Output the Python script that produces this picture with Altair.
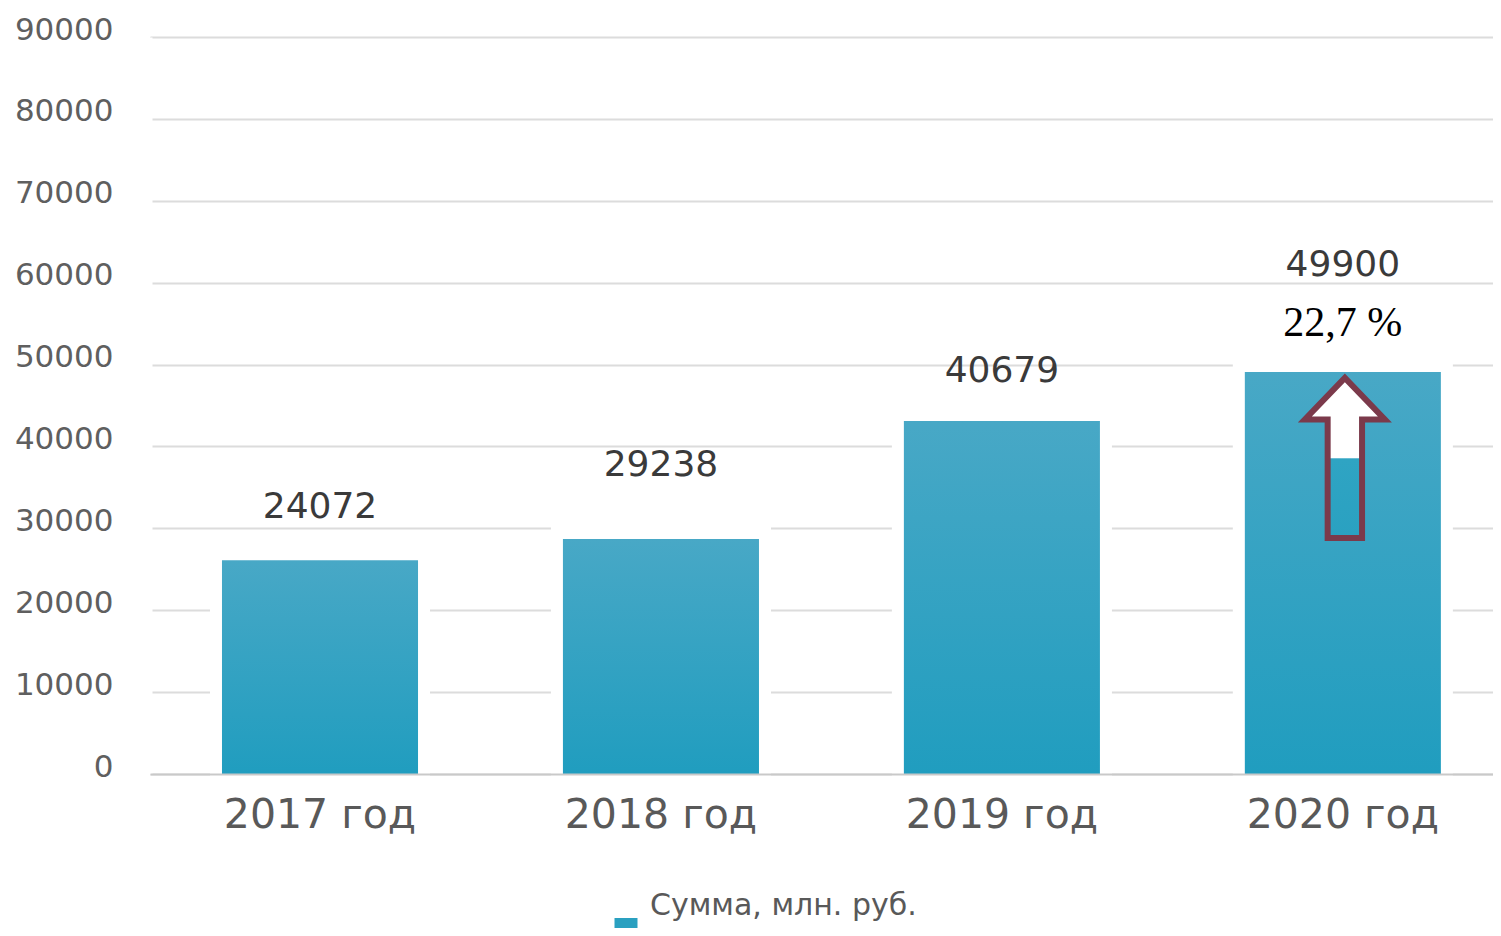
import altair as alt
import pandas as pd

years = ["2017 год", "2018 год", "2019 год", "2020 год"]
bar_heights = [26100, 28700, 43100, 49100]      # bar tops as drawn in the picture
value_labels = [24072, 29238, 40679, 49900]     # printed values
growth_labels = ["", "", "", "22,7 %"]
series_name = "Сумма, млн. руб."
y_ticks = [0, 10000, 20000, 30000, 40000, 50000, 60000, 70000, 80000, 90000]

df = pd.DataFrame({
    "year": years,
    "height": bar_heights,
    "label": value_labels,
    "label_txt": [str(v) for v in value_labels],
    "growth": growth_labels,
    "series": [series_name] * 4,
})

FONT = "DejaVu Sans"
bar_grad = alt.Gradient(
    gradient="linear",
    stops=[alt.GradientStop(color="#48a8c6", offset=0),
           alt.GradientStop(color="#209dbf", offset=1)],
    x1=0, x2=0, y1=0, y2=1,
)
arrow_grad = alt.Gradient(
    gradient="linear",
    stops=[alt.GradientStop(color="#ffffff", offset=0),
           alt.GradientStop(color="#ffffff", offset=0.5),
           alt.GradientStop(color="#2fa4c3", offset=0.505),
           alt.GradientStop(color="#2aa1c1", offset=1)],
    x1=0, x2=0, y1=0, y2=1,
)

xs = alt.X("year:N", sort=years, title=None,
           scale=alt.Scale(paddingInner=0.425, paddingOuter=0.182, align=0.58),
           axis=alt.Axis(zindex=1, grid=False, domain=True))
ys = alt.Y("height:Q", title=None, scale=alt.Scale(domain=[0, 90000], nice=False),
           axis=alt.Axis(values=y_ticks, format="d", zindex=0))
xt = alt.X("year:N", sort=years, title=None)
yt = alt.Y("label:Q", title=None)

base = alt.Chart(df)

halo = base.mark_bar(color="white", stroke="white", strokeWidth=24).encode(x=xs, y=ys)
bars = base.mark_bar(fill=bar_grad).encode(x=xs, y=ys)

legend_square = "M -1 -0.26 L 1 -0.26 L 1 1.74 L -1 1.74 Z"
legend_layer = base.transform_filter("datum.year == 'none'").mark_square(opacity=1).encode(
    x=xt, y=alt.Y("height:Q", title=None),
    color=alt.Color("series:N",
                    scale=alt.Scale(domain=[series_name], range=["#2aa0c0"]),
                    legend=alt.Legend(title=None, orient="none", legendX=461, legendY=869,
                                      symbolType=legend_square, symbolSize=529,
                                      symbolOpacity=1,
                                      labelFont=FONT, labelFontSize=30, labelLimit=0,
                                      labelColor="#595959", labelOffset=9,
                                      labelBaseline="bottom", padding=0)),
)

txt_main = base.transform_filter("datum.growth == ''").mark_text(
    font=FONT, fontSize=36, color="#3a3a3a", dy=-70, baseline="middle").encode(
    x=xt, y=yt, text="label_txt:N")
txt_last = base.transform_filter("datum.growth != ''").mark_text(
    font=FONT, fontSize=36, color="#3a3a3a", dy=-100, baseline="middle").encode(
    x=xt, y=yt, text="label_txt:N")
txt_growth = base.transform_filter("datum.growth != ''").mark_text(
    font="Liberation Serif", fontSize=42, color="#000000", dy=-42, baseline="middle").encode(
    x=xt, y=yt, text="growth:N")

arrow_path = ("M 0 -1 L 0.5 -0.48 L 0.215 -0.48 L 0.215 1 L -0.215 1 "
              "L -0.215 -0.48 L -0.5 -0.48 Z")
arrow = base.transform_filter("datum.growth != ''").mark_point(
    shape=arrow_path, size=25600, filled=True, fill=arrow_grad, opacity=1,
    stroke="#7b3a4b", strokeWidth=6, strokeJoin="miter", yOffset=86, xOffset=2).encode(
    x=xt, y=alt.Y("height:Q", title=None))

chart = alt.layer(halo, bars, legend_layer, txt_main, txt_last, txt_growth, arrow).properties(
    width=1343, height=737,
    autosize=alt.AutoSizeParams(type="none"),
    padding={"left": 142, "top": 29, "right": 0, "bottom": 154},
).configure_view(strokeWidth=0, stroke="transparent").configure(background="white").configure_axisX(
    labelAngle=0, labelFont=FONT, labelFontSize=41, labelColor="#595959",
    labelPadding=21, labelLimit=0, ticks=False, domain=True, domainColor="#c9c9c9",
    domainWidth=2, grid=False,
).configure_axisY(
    labelFont=FONT, labelFontSize=31, labelColor="#5f5f5f", labelPadding=37,
    labelOffset=-7, ticks=False, domain=True, domainColor="white", domainWidth=4,
    grid=True, gridColor="#dcdcdc", gridWidth=2,
)

chart.save("out.html", embed_options={"renderer": "svg", "actions": False})
